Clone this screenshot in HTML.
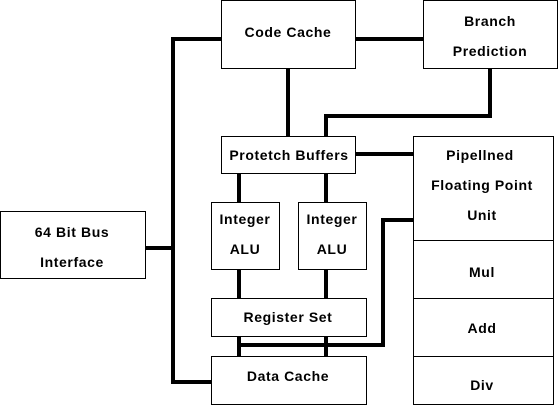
<!DOCTYPE html><html><head><style>body{margin:0;background:#fff}</style></head><body>
<svg width="558" height="405" xmlns="http://www.w3.org/2000/svg" style="display:block">
<g stroke="#000" stroke-width="4" fill="none" stroke-linecap="square">
<polyline points="221,39 173,39 173,382 211,382"/>
<line x1="145" y1="248" x2="173" y2="248"/>
<line x1="355" y1="39" x2="423" y2="39"/>
<line x1="288" y1="68" x2="288" y2="136"/>
<polyline points="490,68 490,116 326,116 326,136"/>
<line x1="355" y1="154" x2="413" y2="154"/>
<line x1="239" y1="173" x2="239" y2="356"/>
<line x1="326" y1="173" x2="326" y2="356"/>
<polyline points="239,345 383,345 383,220 413,220"/>
</g>
<g stroke="#000" stroke-width="1" fill="#fff">
<rect x="221.5" y="0.5" width="134" height="68"/>
<rect x="423.5" y="0.5" width="134" height="68"/>
<rect x="221.5" y="136.5" width="134" height="37"/>
<rect x="413.5" y="136.5" width="140" height="268"/>
<line x1="413" y1="240.5" x2="554" y2="240.5"/>
<line x1="413" y1="298.5" x2="554" y2="298.5"/>
<line x1="413" y1="356.5" x2="554" y2="356.5"/>
<rect x="211.5" y="202.5" width="68" height="67"/>
<rect x="298.5" y="202.5" width="68" height="67"/>
<rect x="211.5" y="298.5" width="155" height="38"/>
<rect x="211.5" y="356.5" width="155" height="48"/>
<rect x="0.5" y="211.5" width="145" height="67"/>
</g>
<g font-family="Liberation Sans, sans-serif" font-weight="bold" font-size="14" letter-spacing="0.6" text-anchor="middle" fill="#000">
<text x="288" y="37">Code Cache</text>
<text x="490" y="26">Branch</text>
<text x="490" y="56">Prediction</text>
<text x="289" y="160">Protetch Buffers</text>
<text x="480" y="160">Pipellned</text>
<text x="482" y="190">Floating Point</text>
<text x="482" y="220">Unit</text>
<text x="482" y="277">Mul</text>
<text x="482" y="333">Add</text>
<text x="482" y="390">Div</text>
<text x="245" y="224">Integer</text>
<text x="245" y="254">ALU</text>
<text x="332" y="224">Integer</text>
<text x="332" y="254">ALU</text>
<text x="288" y="322">Register Set</text>
<text x="288" y="381">Data Cache</text>
<text x="72" y="237">64 Bit Bus</text>
<text x="72" y="267">Interface</text>
</g>
</svg></body></html>
